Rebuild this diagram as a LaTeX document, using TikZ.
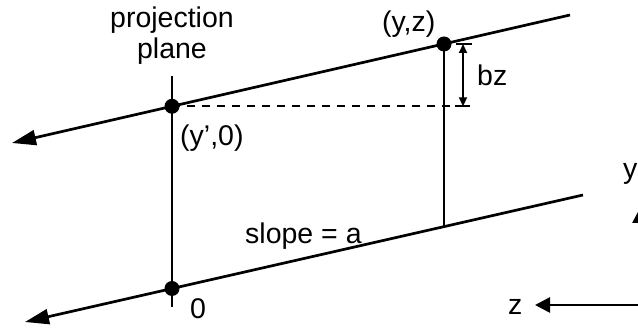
\documentclass[tikz,border=0pt]{standalone}
\usepackage{fontspec}
\setmainfont{Liberation Sans}
\usetikzlibrary{arrows.meta,positioning}

\begin{document}
\begin{tikzpicture}[
  x=1pt, y=1pt,
  every node/.style={font=\fontsize{28.5}{31}\selectfont, inner sep=0pt},
  ray/.style={line width=2.7pt},
  bigarr/.style={ray, -{Triangle[length=24pt, width=15pt]}},
  axarr/.style={ray, -{Triangle[length=15pt, width=15pt]}},
  dim/.style={line width=2pt, {Triangle[length=9pt, width=8pt]}-{Triangle[length=9pt, width=8pt]}},
  tick/.style={line width=2pt},
  guide/.style={line width=2pt, dash pattern=on 8pt off 7pt},
  dot/.style={circle, fill=black, minimum size=15pt, inner sep=0pt},
  lab/.style={align=center}
]
  \useasboundingbox (0,0) rectangle (638,329);
  \clip (0,0) rectangle (638,329);

  % the two rays and the plane
  \coordinate (upL) at (12,186);
  \coordinate (upR) at (570,314);
  \coordinate (loL) at (25,7);
  \coordinate (loR) at (583,134);
  \coordinate (foot) at (444,102.4);
  \coordinate (planeT) at (172,253);
  \coordinate (planeB) at (172,22);
  \node[dot] (proj) at (172,222.7) {};
  \node[dot] (pt) at (444,285) {};
  \node[dot] (orig) at (172,40.5) {};

  \draw[ray] (planeT) -- (planeB);
  \draw[bigarr] (upR) -- (upL);
  \draw[bigarr] (loR) -- (loL);
  \draw[ray] (pt.center) -- (foot);

  % offset bz
  \coordinate (dashE) at (470,222.7);
  \coordinate (bzT) at (463,285);
  \coordinate (bzB) at (463,222.7);
  \coordinate (tickTL) at (456,285);
  \coordinate (tickTR) at (472,285);
  \coordinate (tickBL) at (455,222.7);
  \draw[guide] (proj.center) -- (dashE);
  \draw[tick] (tickTL) -- (tickTR);
  \draw[tick] (tickBL) -- (dashE);
  \draw[dim] (bzB) -- (bzT);

  % axes
  \coordinate (ax0) at (640,24);
  \coordinate (zTip) at (535,24);
  \coordinate (yTip) at (640,121);
  \draw[axarr] (ax0) -- (zTip);
  \draw[axarr] (ax0) -- (yTip);

  % labels
  \node[lab, anchor=north] (planelab) at (172,322) {projection\\plane};
  \node[anchor=north west] (projlab) at (180,204) {(y’,0)};
  \node[above left=1pt and 3pt of pt] (ptlab) {(y,z)};
  \node[anchor=north west] (bzlab) at (477,264) {bz};
  \node[anchor=north west] (slopelab) at (245,106) {slope = a};
  \node[anchor=north west] (origlab) at (190,31) {0};
  \node[anchor=south west] (zlab) at (508,14) {z};
  \node[anchor=south east] (ylab) at (637.5,144) {y};
\end{tikzpicture}
\end{document}
